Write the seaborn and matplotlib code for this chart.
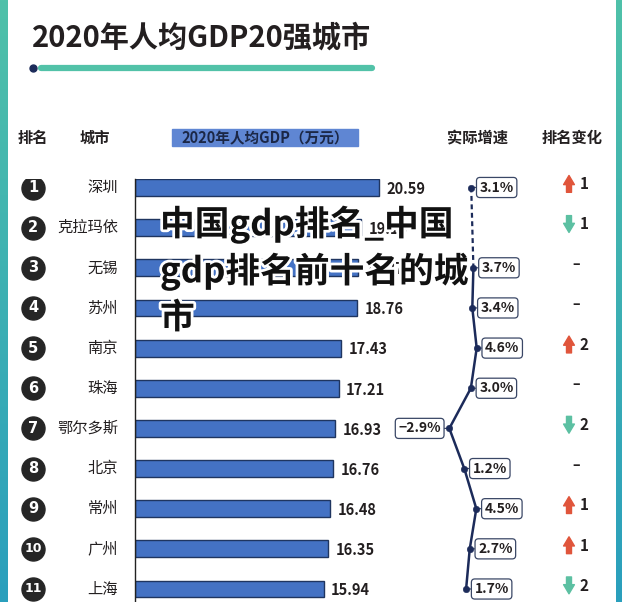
import numpy as np
import matplotlib
matplotlib.use('Agg')
import matplotlib.pyplot as plt
import matplotlib.patheffects as pe
from matplotlib.colors import LinearSegmentedColormap
from matplotlib.patches import Rectangle
import seaborn as sns

# Données
ranks = ['1', '2', '3', '4', '5', '6', '7', '8', '9', '10', '11']
cities = ['深圳', '克拉玛依', '无锡', '苏州', '南京', '珠海', '鄂尔多斯', '北京', '常州', '广州', '上海']
gdp = [20.59, 19.13, 18.87, 18.76, 17.43, 17.21, 16.93, 16.76, 16.48, 16.35, 15.94]
growth = [3.1, np.nan, 3.7, 3.4, 4.6, 3.0, -2.9, 1.2, 4.5, 2.7, 1.7]
rank_dir = ['up', 'down', '', '', 'up', '', 'down', '', 'up', 'up', 'down']
rank_chg = ['1', '1', '', '', '2', '', '2', '', '1', '1', '2']

title = '2020年人均GDP20强城市'
headers = ['排名', '城市', '2020年人均GDP（万元）', '实际增速', '排名变化']
watermark = ['中国gdp排名_中国', 'gdp排名前十名的城', '市']

sns.set_theme(style='white')
plt.rcParams['font.family'] = ['Noto Sans CJK SC', 'DejaVu Sans']

W, H = 630, 602
def fx(x): return x / W
def fy(y): return 1 - y / H

fig = plt.figure(figsize=(6.3, 6.02), dpi=100)
fig.patch.set_facecolor('white')

dark = '#231f20'
navy = '#1c2b5a'
blue = '#4472c4'
teal = '#52c2a8'
red = '#e0553b'
green = '#5cc0a2'

# bandes latérales en dégradé
cmap = LinearSegmentedColormap.from_list('band', ['#4fc1a9', '#2a9fbd'])
grad = np.linspace(0, 1, 256).reshape(-1, 1)
for x0, w in [(0, 8), (616, 6)]:
    bax = fig.add_axes([fx(x0), 0, fx(w), 1])
    bax.imshow(grad, aspect='auto', cmap=cmap)
    bax.axis('off')

# titre + soulignement
fig.text(fx(32), fy(38), title, fontsize=21, fontweight='bold', color=dark, va='center', ha='left')
fig.add_artist(plt.Line2D([fx(41), fx(372)], [fy(68), fy(68)], color=teal, lw=4.5,
                          solid_capstyle='round'))
fig.add_artist(plt.Line2D([fx(33)], [fy(68)], marker='o', ms=5, color=navy))

# en-têtes
hy = fy(138)
fig.add_artist(Rectangle((fx(172), fy(146)), fx(186), 17 / H, color='#5f86d3', zorder=1))
hdr_x = [(33, 'center'), (95, 'center'), (265, 'center'), (478, 'center'), (572, 'center')]
for (x, ha), txt in zip(hdr_x, headers):
    fig.text(fx(x), hy, txt, fontsize=10.5 if x == 265 else 11, fontweight='bold',
             color=dark if x != 265 else '#1b2746', ha=ha, va='center', zorder=2)

# axes
row0, pitch = 187.5, 40.15
ytop = -(row0 - 178.5) / pitch
ybot = (H - row0) / pitch
ax_h = fy(178.5)
rows = np.arange(len(cities))

ax_bg = fig.add_axes([0, 0, 1, ax_h])
ax_bg.set_xlim(0, W)
ax_bg.set_ylim(ybot, ytop)
ax_bg.axis('off')

px_per_unit = 11.83
ax = fig.add_axes([fx(135), 0, fx(481), ax_h])
ax.patch.set_alpha(0)
sns.barplot(x=gdp, y=cities, orient='h', color=blue, saturation=1, edgecolor='#1f3560',
            linewidth=1, width=0.42, ax=ax)
ax.set_xlim(0, 481 / px_per_unit)
ax.set_ylim(ybot, ytop)
ax.set_xticks([])
ax.set_yticks([])
ax.set_xlabel('')
ax.set_ylabel('')
sns.despine(ax=ax, top=True, right=True, bottom=True, left=False)
ax.spines['left'].set_color('#222222')
ax.spines['left'].set_linewidth(1)

for i, v in enumerate(gdp):
    ax.annotate(f'{v:.2f}', xy=(v, i), xytext=(5.5, -1), textcoords='offset points',
                ha='left', va='center', fontsize=10.5, fontweight='bold', color=dark)

# ligne de croissance (axe x dédié)
ax2 = ax.twiny()
gx0, gk = 459.9, 3.65
ax2.set_zorder(3)
mask = ~np.isnan(growth)
g = np.array(growth)
sns.lineplot(x=g[2:], y=rows[2:], orient='y', sort=False, color=navy, lw=1.8, ax=ax2)
sns.lineplot(x=[g[0], g[2]], y=[rows[0], rows[2]], orient='y', sort=False, color=navy,
             lw=1.6, linestyle=(0, (2.2, 1.6)), ax=ax2)
sns.scatterplot(x=g[mask], y=rows[mask], color=navy, s=22, edgecolor=navy, zorder=5, ax=ax2)
ax2.set_xlim((135 - gx0) / gk, (616 - gx0) / gk)
ax2.set_ylim(ybot, ytop)
ax2.axis('off')

for i, v in enumerate(growth):
    if np.isnan(v):
        continue
    neg = v < 0
    lab = f'{v:.1f}%'.replace('-', '−')
    ax2.annotate(lab, xy=(v, i), xytext=(-6 if neg else 6, 0), textcoords='offset points',
                 ha='right' if neg else 'left', va='center', fontsize=10, fontweight='bold',
                 color=dark,
                 bbox=dict(boxstyle='round,pad=0.22,rounding_size=0.25', fc='white',
                           ec='#3a4766', lw=0.9),
                 arrowprops=dict(arrowstyle='-', color='#3a4766', lw=0.9, shrinkA=0, shrinkB=2))

# colonnes rang / ville / variation
ax_bg.scatter(np.full(len(rows), 33), rows, s=275, color='#262626', zorder=2)
for i, r in enumerate(ranks):
    ax_bg.text(33, i, r, color='white', fontsize=10.5 if len(r) == 1 else 9,
               fontweight='bold', ha='center', va='center', zorder=3,
               family=['DejaVu Sans'])
    ax_bg.text(118, i, cities[i], fontsize=11, fontweight='medium', color=dark,
               ha='right', va='center')
    d = rank_dir[i]
    if d == '':
        ax_bg.text(576, i - 0.1, '–', fontsize=10, fontweight='bold', color=dark,
                   ha='center', va='center')
        continue
    col = red if d == 'up' else green
    yt, yb = (i - 0.3, i + 0.12) if d == 'up' else (i + 0.12, i - 0.3)
    ax_bg.annotate('', xy=(569, yt), xytext=(569, yb), annotation_clip=False,
                   arrowprops=dict(arrowstyle='simple,head_length=0.55,head_width=0.65,tail_width=0.3',
                                   color=col, mutation_scale=12, shrinkA=0, shrinkB=0))
    ax_bg.text(580, i - 0.08, rank_chg[i], fontsize=11, fontweight='bold', color=dark,
               ha='left', va='center')

# filigrane
for k, line in enumerate(watermark):
    fig.text(fx(160), fy(224 + 47 * k), line, fontsize=25, fontweight='bold', color='#111111',
             ha='left', va='center', zorder=10,
             path_effects=[pe.withStroke(linewidth=4, foreground='white')])

fig.savefig('out.png', dpi=100)
